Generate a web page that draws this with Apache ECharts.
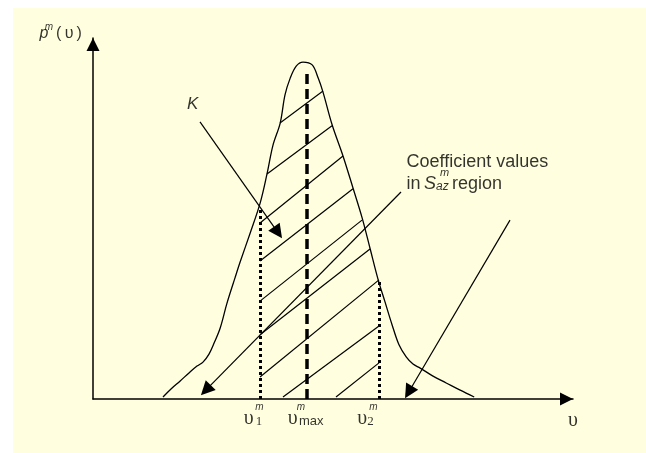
<!DOCTYPE html>
<html><head><meta charset="utf-8">
<script src="https://cdn.jsdelivr.net/npm/echarts@6/dist/echarts.min.js"></script>
<style>
html,body{margin:0;padding:0;background:#fff;width:646px;height:453px;overflow:hidden;}
#bg{position:absolute;left:13px;top:8px;right:0;bottom:0;background:#FFFFE0;}
#chart{position:absolute;left:0;top:0;width:646px;height:453px;}
</style></head><body>
<div id="bg"></div><div id="chart"></div>
<script>
// density curve p^m(υ)
const curveX = [1.75,1.95,2.18,2.4,2.6,2.75,2.9,3.03,3.18,3.35,3.55,3.68,3.93,4.18,4.35,4.5,4.68,4.8,4.93,5.08,5.25,5.48,5.63,5.75,5.98,6.25,6.5,6.73,6.93,7.13,7.3,7.48,7.65,7.83,8.0,8.18,8.5,8.83,9.18,9.53];
const curveY = [0.05,0.25,0.45,0.65,0.82,0.92,1.12,1.4,1.77,2.39,3.02,3.42,4.14,4.89,5.61,6.33,6.88,7.58,8.0,8.3,8.4,8.33,8.0,7.65,6.83,6.06,5.26,4.51,3.74,2.97,2.42,1.84,1.35,1.05,0.87,0.77,0.57,0.4,0.22,0.05];
// characteristic points υ1, υmax, υ2 (x) and the height of their vertical lines
const markerNames = ['υ1', 'υmax', 'υ2'];
const markerX = [4.175, 5.34, 7.15];
const markerTop = [4.71, 8.2, 2.97];
// hatching of region K
const hatchStart = [[4.675,6.88],[4.35,5.61],[4.175,4.39],[4.175,3.44],[4.175,2.44],[4.175,1.60],[4.175,0.55],[4.75,0.05],[6.075,0.05]];
const hatchEnd = [[5.75,7.68],[5.975,6.81],[6.25,6.06],[6.5,5.24],[6.725,4.46],[6.925,3.74],[7.15,2.97],[7.15,1.82],[7.15,0.90]];
// annotation arrows (start, head)
const arrowStart = [[2.675,6.91],[7.7,5.16],[10.425,4.46]];
const arrowEnd = [[4.625,4.15],[2.82,0.22],[7.89,0.17]];
// text pieces
const labelTexts = ['p','m','(\u2009υ\u2009)','K','Coefficient values','in','S','az','m','region','υ','1','m','υ','max','m','υ','2','m','υ'];
const labelX = [-1.225,-1.1,-0.6,2.49,7.84,7.84,8.275,8.575,8.675,8.975,3.89,4.15,4.16,4.99,5.15,5.2,6.73,6.935,7.01,12.0];
const labelY = [9.11,9.28,9.10,7.35,5.92,5.37,5.37,5.29,5.64,5.37,-0.5,-0.56,-0.21,-0.5,-0.55,-0.21,-0.5,-0.56,-0.21,-0.55];
const labelStyle = ['sansIt16','sansIt10','sans16','sansIt17','sans18L','sans18L','sansIt18L','sansIt12L','sansIt11L','sans18L','serif20','serif13','sansIt10','serif20','sans13L','sansIt10','serif20','serif13','sansIt10','serif20'];

const SANS = '"Liberation Sans", Arial, sans-serif';
const SERIF = '"Liberation Serif", "Times New Roman", serif';
const textStyles = {
  sansIt16: {fontFamily: SANS, fontStyle: 'italic', fontSize: 16, align: 'center'},
  sansIt10: {fontFamily: SANS, fontStyle: 'italic', fontSize: 10, align: 'center'},
  sans16: {fontFamily: SANS, fontSize: 16, align: 'center'},
  sansIt17: {fontFamily: SANS, fontStyle: 'italic', fontSize: 17, align: 'center'},
  sans18L: {fontFamily: SANS, fontSize: 18, align: 'left'},
  sansIt18L: {fontFamily: SANS, fontStyle: 'italic', fontSize: 18, align: 'left'},
  sansIt12L: {fontFamily: SANS, fontStyle: 'italic', fontSize: 12, align: 'left'},
  sansIt11L: {fontFamily: SANS, fontStyle: 'italic', fontSize: 11, align: 'left'},
  serif20: {fontFamily: SERIF, fontSize: 20, align: 'center'},
  serif13: {fontFamily: SERIF, fontSize: 13, align: 'center'},
  sans13L: {fontFamily: SANS, fontSize: 13, align: 'left'}
};

const chart = echarts.init(document.getElementById('chart'), null, {renderer: 'canvas'});

const axisCommon = {
  type: 'value',
  axisTick: {show: false},
  axisLabel: {show: false},
  splitLine: {show: false},
  axisLine: {
    show: true,
    symbol: ['none', 'triangle'],
    symbolSize: [13, 13],
    symbolOffset: [0, -6.5],
    lineStyle: {color: '#000', width: 1.5}
  }
};

const seg = (a, b) => ({coords: [a, b]});

chart.setOption({
  animation: false,
  backgroundColor: 'transparent',
  grid: {left: 93, right: 73, top: 38, bottom: 54},
  xAxis: Object.assign({min: 0, max: 12}, axisCommon),
  yAxis: Object.assign({min: 0, max: 9}, axisCommon),
  series: [
    {
      type: 'line', name: 'p', data: curveX.map((x, i) => [x, curveY[i]]),
      smooth: 0.35, showSymbol: false, silent: true,
      lineStyle: {color: '#000', width: 1.3}
    },
    {
      type: 'lines', coordinateSystem: 'cartesian2d', silent: true,
      data: hatchStart.map((s, i) => seg(s, hatchEnd[i])),
      lineStyle: {color: '#000', width: 1.2, opacity: 1}
    },
    {
      type: 'lines', coordinateSystem: 'cartesian2d', silent: true, z: 3,
      data: [0, 2].map(i => seg([markerX[i], 0], [markerX[i], markerTop[i]])),
      lineStyle: {color: '#000', width: 3, type: [3, 3], opacity: 1}
    },
    {
      type: 'lines', coordinateSystem: 'cartesian2d', silent: true, z: 3,
      data: [1].map(i => seg([markerX[i], 0], [markerX[i], markerTop[i]])),
      lineStyle: {color: '#000', width: 3.5, type: [10, 5], opacity: 1}
    },
    {
      type: 'lines', coordinateSystem: 'cartesian2d', silent: true, z: 4,
      symbol: ['none', 'triangle'], symbolSize: 14,
      data: arrowStart.map((s, i) => seg(s, arrowEnd[i])),
      lineStyle: {color: '#000', width: 1.2, opacity: 1},
      itemStyle: {color: '#000'}
    },
    {
      type: 'scatter', silent: true, clip: false, z: 10,
      symbolSize: 1, itemStyle: {color: 'rgba(0,0,0,0)'},
      data: labelTexts.map((t, i) => ({
        value: [labelX[i], labelY[i]],
        label: Object.assign({show: true, formatter: t, position: 'inside', color: '#000', verticalAlign: 'middle'}, textStyles[labelStyle[i]])
      }))
    }
  ]
});
</script>
</body></html>
